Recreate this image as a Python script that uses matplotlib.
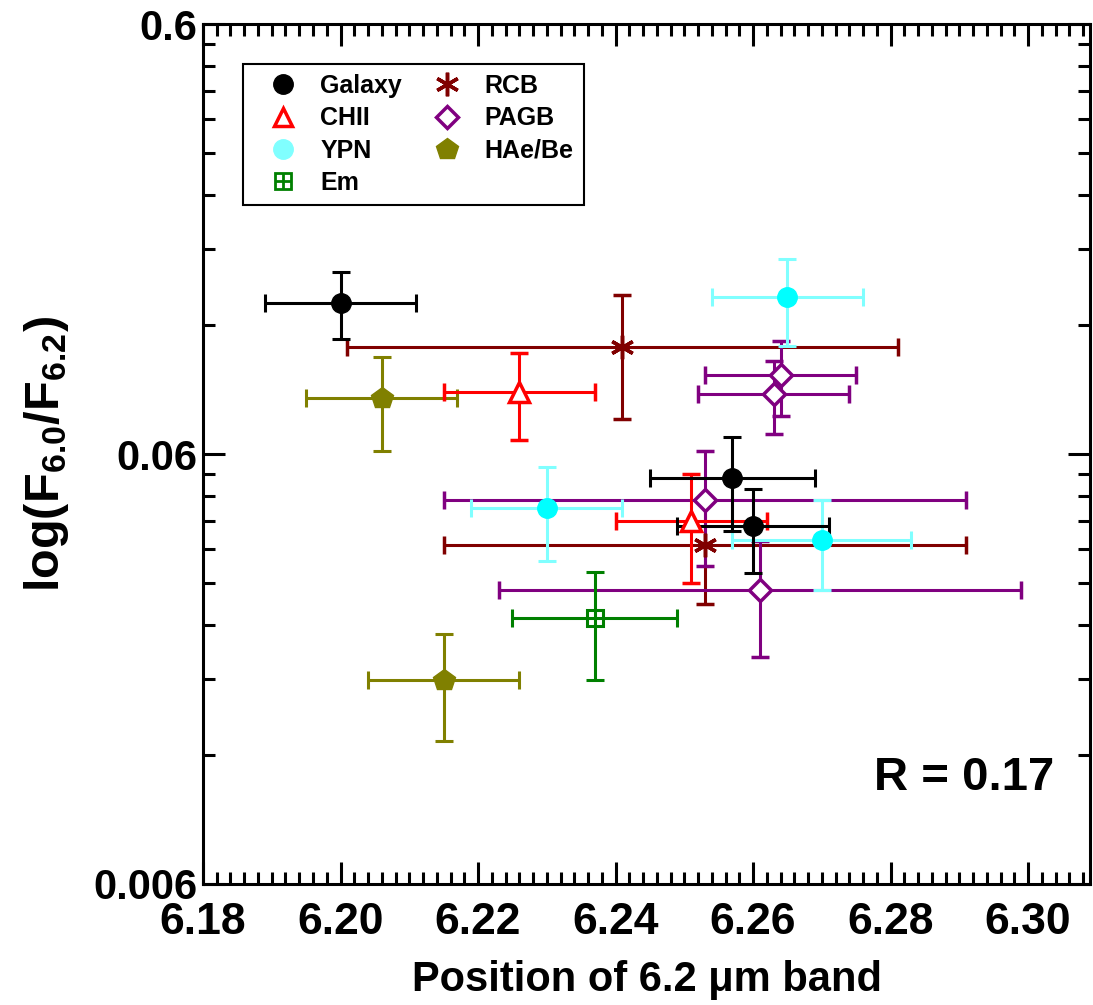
import matplotlib
matplotlib.use("Agg")
import matplotlib.pyplot as plt
from matplotlib.lines import Line2D
from matplotlib.ticker import FixedLocator, NullFormatter, MultipleLocator

plt.rcParams["font.family"] = ["Liberation Sans", "DejaVu Sans"]
plt.rcParams["font.weight"] = "bold"
plt.rcParams["mathtext.fontset"] = "custom"
plt.rcParams["mathtext.rm"] = "Liberation Sans:bold"
plt.rcParams["mathtext.bf"] = "Liberation Sans:bold"
plt.rcParams["mathtext.default"] = "bf"

# Band position (um) and F6.0/F6.2 ratio, with 1-sigma errors, per class.
galaxy_x = [6.200, 6.257, 6.260]
galaxy_y = [0.135, 0.0528, 0.0407]
galaxy_xerr = [0.011, 0.012, 0.011]
galaxy_yerr = [0.024, 0.013, 0.009]

chii_x = [6.226, 6.251]
chii_y = [0.0838, 0.0420]
chii_xerr = [0.011, 0.011]
chii_yerr = [0.019, 0.012]

ypn_x = [6.230, 6.270, 6.265]
ypn_y = [0.0449, 0.0379, 0.1388]
ypn_xerr = [0.011, 0.013, 0.011]
ypn_yerr = [0.011, 0.009, 0.032]

em_x = [6.237]
em_y = [0.0249]
em_xerr = [0.012]
em_yerr = [0.007]

rcb_x = [6.241, 6.253]
rcb_y = [0.1063, 0.0369]
rcb_xerr = [0.040, 0.038]
rcb_yerr = [0.034, 0.010]

pagb_x = [6.253, 6.261, 6.264, 6.263]
pagb_y = [0.0469, 0.0289, 0.0916, 0.0828]
pagb_xerr = [0.038, 0.038, 0.011, 0.011]
pagb_yerr = [0.014, 0.0087, 0.018, 0.016]

hae_x = [6.206, 6.215]
hae_y = [0.0809, 0.0179]
hae_xerr = [0.011, 0.011]
hae_yerr = [0.020, 0.005]

x_ticks = [6.18, 6.20, 6.22, 6.24, 6.26, 6.28, 6.30]
y_ticks = [0.006, 0.06, 0.6]
y_ticklabels = ["0.006", "0.06", "0.6"]
# Origin-style minor ticks: 2..9 times each major value
y_minor = [m * k for m in (0.006, 0.06) for k in range(2, 10)]

ERR_KW = dict(linestyle="none", elinewidth=2.2, capsize=6.5, capthick=2.2)


def draw(ax, x, y, xerr, yerr, color, ecolor=None, **marker_kw):
    ax.errorbar(x, y, xerr=xerr, yerr=yerr, color=color,
                ecolor=ecolor or color, **ERR_KW, **marker_kw)


def main() -> None:
    fig = plt.figure(figsize=(10.93, 10.05), dpi=100)
    ax = fig.add_axes([0.1857, 0.1204, 0.8116, 0.8557])

    draw(ax, rcb_x, rcb_y, rcb_xerr, rcb_yerr, "#800000",
         marker=(6, 2, 0), ms=17, mew=2.5)
    draw(ax, pagb_x, pagb_y, pagb_xerr, pagb_yerr, "#800080",
         marker="D", ms=11, mew=2.5, mfc="white")
    draw(ax, hae_x, hae_y, hae_xerr, hae_yerr, "#808000",
         marker="p", ms=16)
    draw(ax, em_x, em_y, em_xerr, em_yerr, "#008000",
         marker="s", ms=11, mew=2.2, mfc="none")
    draw(ax, chii_x, chii_y, chii_xerr, chii_yerr, "#ff0000",
         marker="^", ms=14, mew=2.5, mfc="white")
    draw(ax, ypn_x, ypn_y, ypn_xerr, ypn_yerr, "#00ffff", ecolor="#80ffff",
         marker="o", ms=14)
    draw(ax, galaxy_x, galaxy_y, galaxy_xerr, galaxy_yerr, "black",
         marker="o", ms=14)

    ax.set_yscale("log")
    ax.set_xlim(6.18, 6.309)
    ax.set_ylim(0.006, 0.6)

    ax.xaxis.set_major_locator(FixedLocator(x_ticks))
    ax.xaxis.set_minor_locator(MultipleLocator(0.002))
    ax.set_xticklabels([f"{t:.2f}" for t in x_ticks])
    ax.yaxis.set_major_locator(FixedLocator(y_ticks))
    ax.yaxis.set_minor_locator(FixedLocator(y_minor))
    ax.yaxis.set_minor_formatter(NullFormatter())
    ax.set_yticklabels(y_ticklabels)

    ax.tick_params(which="both", direction="in", top=True, right=True, width=2.2)
    ax.tick_params(which="major", length=15.5)
    ax.tick_params(which="minor", length=8.5)
    ax.tick_params(axis="x", pad=13, labelsize=32)
    ax.tick_params(axis="y", pad=4, labelsize=30)
    for spine in ax.spines.values():
        spine.set_linewidth(2.2)

    ax.set_xlabel("Position of 6.2 \u03bcm band", fontsize=30, fontweight="bold", labelpad=12)
    ax.set_ylabel(r"log(F$_{6.0}$/F$_{6.2}$)", fontsize=35, fontweight="bold", labelpad=16)

    ax.text(0.9594, 0.109, "R = 0.17", transform=ax.transAxes, ha="right",
            va="baseline", fontsize=34, fontweight="bold")

    handles = [
        Line2D([], [], ls="none", marker="o", ms=14, color="black"),
        Line2D([], [], ls="none", marker="^", ms=13, mew=2.5, mfc="white", color="#ff0000"),
        Line2D([], [], ls="none", marker="o", ms=14, color="#80ffff"),
        (Line2D([], [], ls="none", marker="s", ms=11, mew=2, mfc="none", color="#008000"),
         Line2D([], [], ls="none", marker="+", ms=11, mew=2, color="#008000")),
        Line2D([], [], ls="none", marker=(6, 2, 0), ms=17, mew=2.5, color="#800000"),
        Line2D([], [], ls="none", marker="D", ms=11, mew=2.5, mfc="white", color="#800080"),
        Line2D([], [], ls="none", marker="p", ms=16, color="#808000"),
    ]
    labels = ["Galaxy", "CHII", "YPN", "Em", "RCB", "PAGB", "HAe/Be"]
    leg = ax.legend(handles, labels, ncol=2, loc="upper left",
                    bbox_to_anchor=(0.045, 0.9535), borderaxespad=0,
                    fancybox=False, framealpha=1, edgecolor="black",
                    handlelength=2.4, handletextpad=0.3, columnspacing=0.6,
                    labelspacing=0.33, borderpad=0.4, prop={"weight": "bold", "size": 18})
    leg.get_frame().set_linewidth(1.5)

    fig.savefig("out.png", dpi=100)
    plt.close(fig)


if __name__ == "__main__":
    main()
